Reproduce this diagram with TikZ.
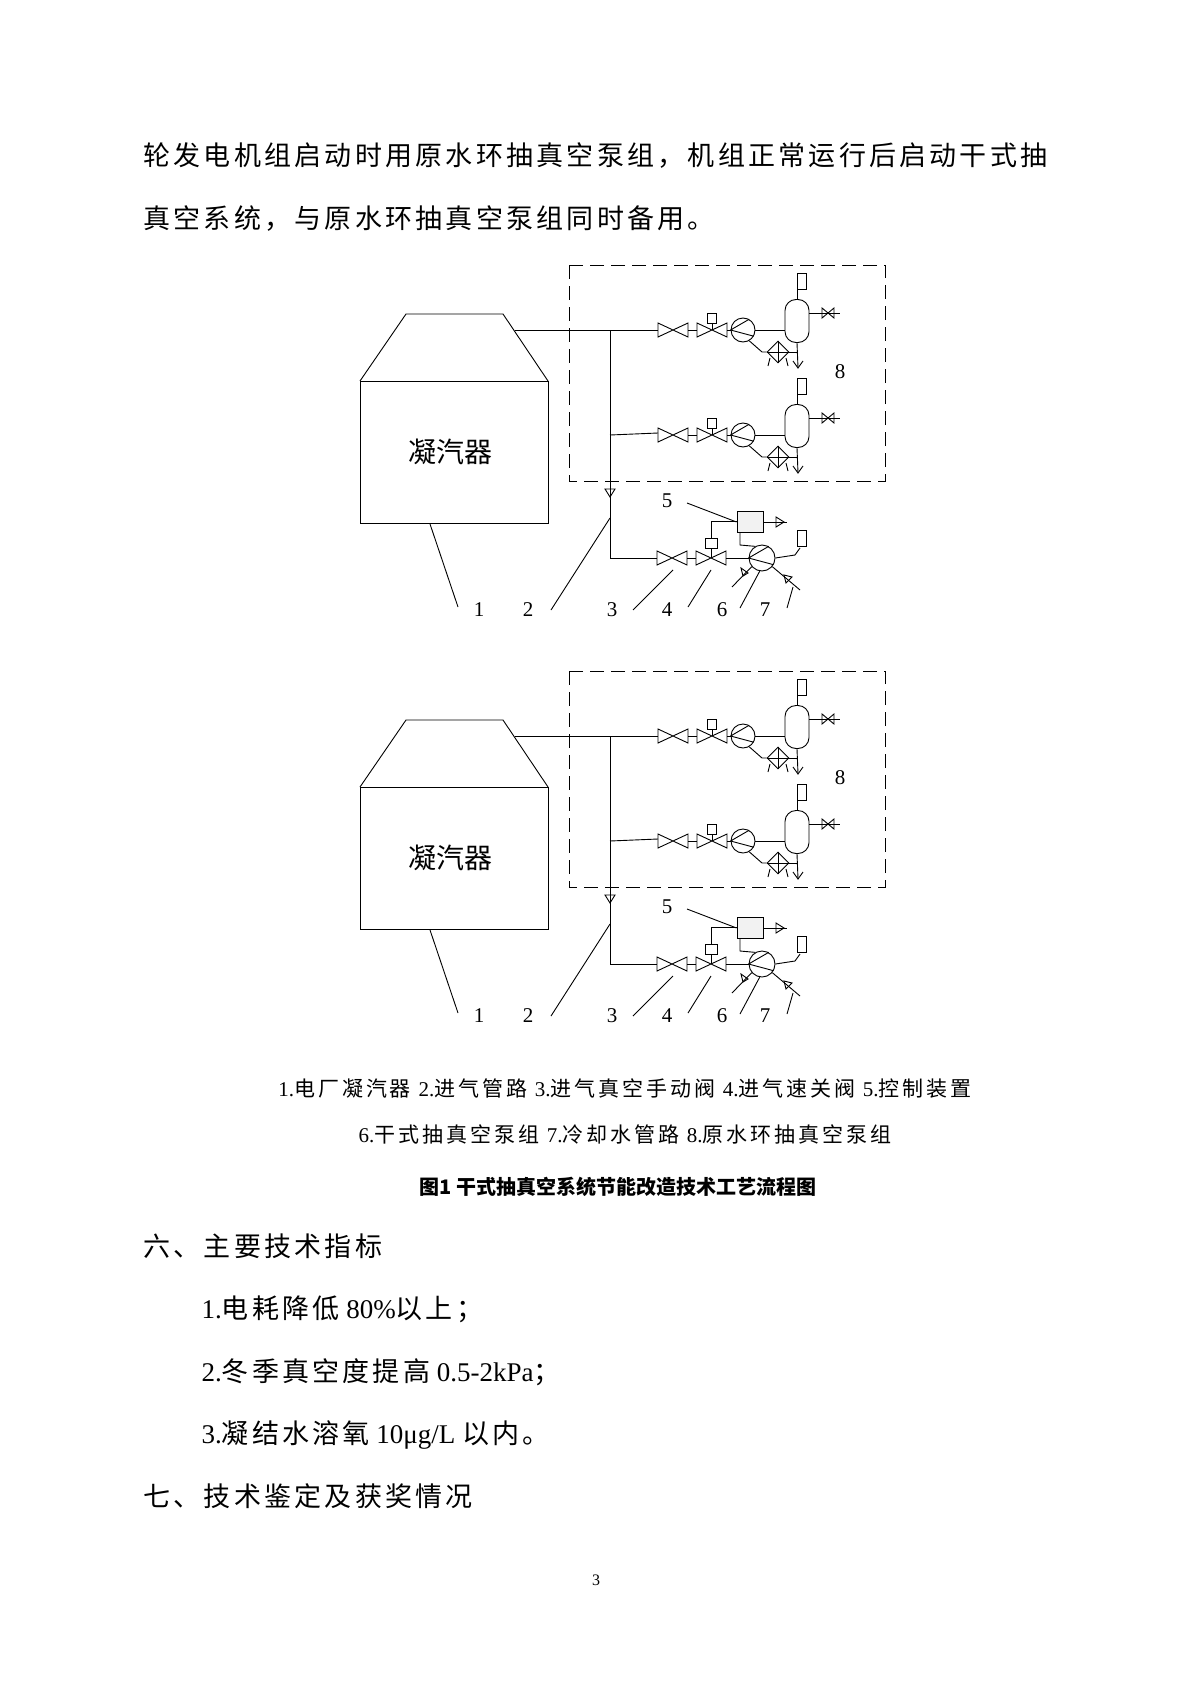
\documentclass[tikz,border=0pt]{standalone}
\usepackage{fontspec}
\usetikzlibrary{shapes.geometric}
\setmainfont{Liberation Serif}
\newfontfamily\zh{Noto Sans CJK SC}[LetterSpace=12]
\newfontfamily\zhc{Noto Sans CJK SC}
\newfontfamily\zhcap{Noto Sans CJK SC}[LetterSpace=14]
\tikzset{
  ln/.style={line width=0.9pt},
  lbl/.style={font=\fontsize{21}{21}\selectfont},
  body/.style={anchor=west,font=\fontsize{27}{27}\selectfont\zh},
  captxt/.style={font=\fontsize{21}{21}\selectfont\zhcap},
}
\newcommand\vlv[2]{\draw[ln] (#1-15,#2-7)--(#1+15,#2+7)--(#1+15,#2-7)--(#1-15,#2+7)--cycle;}
\newcommand\svlv[2]{\draw[ln] (#1-6,#2-5)--(#1+6,#2+5)--(#1+6,#2-5)--(#1-6,#2+5)--cycle;}
\newcommand\flag[2]{\draw[ln] (#1-3,#2-16) rectangle (#1+6,#2);}
\newcommand\pumpsym[3]{\node[circle,draw,ln,minimum size=#3*2pt,inner sep=0] (#1) at (#2) {};
  \draw[ln] (#1.west)--(#1.60) (#1.west)--(#1.-30);}
\newcommand\row[2]{% suffix, y
  \coordinate (b#1) at (610,#2);
  \vlv{673}{#2}\vlv{712}{#2}
  \draw[ln] (688,#2)--(697,#2) (712,#2)--(712,#2-7);
  \node[draw,ln,minimum width=9pt,minimum height=10pt,inner sep=0] (act#1) at (712,#2-12) {};
  \pumpsym{p#1}{743,#2}{12}
  \draw[ln] (727,#2)--(p#1.west);
  \node[draw,ln,rounded corners=11pt,minimum width=24pt,minimum height=43pt,inner sep=0] (ves#1) at (797,#2-9) {};
  \draw[ln] (p#1.east)--(ves#1.west|-p#1.east);
  \draw[ln] (ves#1.north)--++(0,-10); \flag{800}{#2-41}
  \draw[ln] (ves#1.east|-0,#2-17)--(840,#2-17); \svlv{828}{#2-17}
  \node[diamond,draw,ln,minimum size=22pt,inner sep=0] (hx#1) at (778,#2+22) {};
  \draw[ln] (hx#1.north)--(hx#1.south) (hx#1.west)--(hx#1.east);
  \draw[ln] (p#1.-60)--(762,#2+22)--(hx#1.west);
  \draw[ln] (hx#1.east)--(798,#2+22);
  \draw[ln] (ves#1.south)--(798,#2+38);
  \draw[ln] (793,#2+31)--(798,#2+38)--(803,#2+31);
  \draw[ln] (770,#2+28)--(768,#2+36) (786,#2+28)--(788,#2+36);
}
\newcommand\unit[2]{%
\begin{scope}[shift={(0,#2)}]
  \draw[ln] (360,381) rectangle (548,523);
  \draw[ln] (360,381)--(406,314)--(503,314)--(548,381);
  \node[font=\fontsize{28}{28}\selectfont\zhc] (cond#1) at (450,452) {凝汽器};
  \draw[ln,dash pattern=on 14pt off 7pt] (569,265) rectangle (885,481);
  \coordinate (t#1) at (515,330);
  \draw[ln] (t#1)--(658,330);
  \draw[ln] (610,330)--(610,558)--(657,558);
  \draw[ln] (610,435)--(658,433);
  \draw[ln] (605,489)--(615,489)--(610,497)--cycle;
  \row{a#1}{330}
  \row{b#1}{435}
  \node[lbl] (l8#1) at (840,372) {8};
  % bottom row
  \vlv{672}{558}\vlv{711}{558}
  \draw[ln] (687,558)--(696,558) (711,558)--(711,548);
  \node[draw,ln,minimum width=12pt,minimum height=10pt,inner sep=0] (actc#1) at (711,543) {};
  \node[draw,ln,fill=gray!10,minimum width=26pt,minimum height=21pt,inner sep=0] (ctl#1) at (750,522) {};
  \draw[ln] (ctl#1.west|-0,521)--(711,521)--(actc#1.north);
  \draw[ln] (ctl#1.east)--(787,522);
  \draw[ln] (776,517)--(784,522)--(776,527)--cycle;
  \pumpsym{pc#1}{762,558}{13}
  \draw[ln] (726,558)--(pc#1.west);
  \draw[ln] (740,533)--(740,545)--(pc#1.120);
  \draw[ln] (pc#1.east)--(795,555)--(800,548); \flag{800}{546}
  \draw[ln] (pc#1.-140)--(732,587);
  \draw[ln] (741,568)--(748,573)--(743,576)--cycle;
  \draw[ln] (pc#1.-40)--(800,590);
  \draw[ln] (784,575)--(792,577)--(786,583)--cycle;
  \node[lbl] (n1#1) at (479,610) {1};
  \node[lbl] (n2#1) at (528,610) {2};
  \node[lbl] (n3#1) at (612,610) {3};
  \node[lbl] (n4#1) at (667,610) {4};
  \node[lbl] (n6#1) at (722,610) {6};
  \node[lbl] (n7#1) at (765,610) {7};
  \node[lbl] (n5#1) at (667,501) {5};
  \draw[ln] (430,524)--(458,607);
  \draw[ln] (610,518)--(551,610);
  \draw[ln] (673,570)--(633,610);
  \draw[ln] (711,570)--(688,607);
  \draw[ln] (pc#1.-100)--(740,608);
  \draw[ln] (793,587)--(787,608);
  \draw[ln] (687,503)--(ctl#1.west);
\end{scope}}
\begin{document}
\begin{tikzpicture}[x=1pt,y=-1pt]
\useasboundingbox[fill=white] (0,0) rectangle (1190,1683);
\node[body] (p1) at (140,156) {轮发电机组启动时用原水环抽真空泵组，机组正常运行后启动干式抽};
\node[body] (p2) at (140,219) {真空系统，与原水环抽真空泵组同时备用。};
\unit{u}{0}
\unit{v}{406}
\node[captxt] (c1) at (625,1088) {{\rmfamily 1.}电厂凝汽器 {\rmfamily 2.}进气管路 {\rmfamily 3.}进气真空手动阀 {\rmfamily 4.}进气速关阀 {\rmfamily 5.}控制装置};
\node[captxt] (c2) at (625,1134) {{\rmfamily 6.}干式抽真空泵组 {\rmfamily 7.}冷却水管路 {\rmfamily 8.}原水环抽真空泵组};
\node[font=\fontsize{20}{20}\selectfont\zhc\bfseries] (tt) at (618,1187) {图1\ 干式抽真空系统节能改造技术工艺流程图};
\node[body] (s6) at (140,1246) {六、主要技术指标};
\node[body] (i1) at (198,1309) {{\rmfamily 1.}电耗降低{\rmfamily\ 80\%}以上；};
\node[body] (i2) at (198,1372) {{\rmfamily 2.}冬季真空度提高{\rmfamily\ 0.5-2kPa}；};
\node[body] (i3) at (198,1435) {{\rmfamily 3.}凝结水溶氧{\rmfamily\ 10μg/L\ }以内。};
\node[body] (s7) at (140,1496) {七、技术鉴定及获奖情况};
\node[font=\fontsize{16}{16}\selectfont] (pg) at (596,1580) {3};
\end{tikzpicture}
\end{document}
